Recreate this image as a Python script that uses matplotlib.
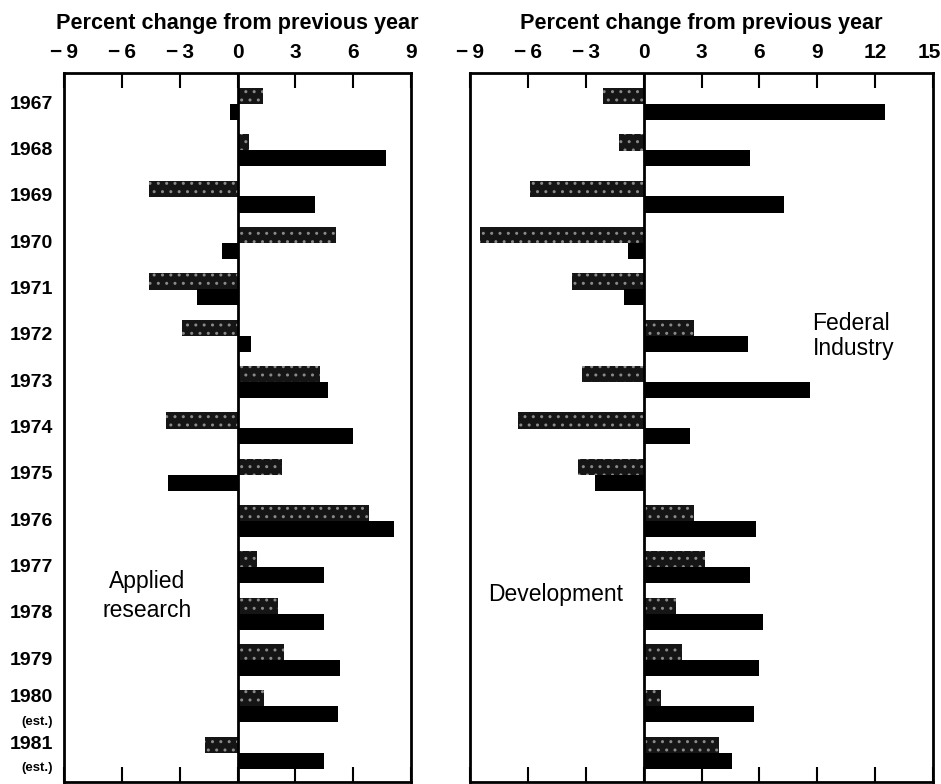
import numpy as np
import matplotlib
matplotlib.use('agg')
import matplotlib.pyplot as plt
import matplotlib.transforms as mtransforms

## Data (percent change from previous year)
years = ["1967", "1968", "1969", "1970", "1971", "1972", "1973", "1974",
         "1975", "1976", "1977", "1978", "1979", "1980", "1981"]
est_years = ["1980", "1981"]

applied_federal = [1.3, 0.6, -4.6, 5.1, -4.6, -2.9, 4.3, -3.7, 2.3, 6.8, 1.0, 2.1, 2.4, 1.4, -1.7]
applied_industry = [-0.4, 7.7, 4.0, -0.8, -2.1, 0.7, 4.7, 6.0, -3.6, 8.1, 4.5, 4.5, 5.3, 5.2, 4.5]

devel_federal = [-2.1, -1.3, -5.9, -8.5, -3.7, 2.6, -3.2, -6.5, -3.4, 2.6, 3.2, 1.7, 2.0, 0.9, 3.9]
devel_industry = [12.5, 5.5, 7.3, -0.8, -1.0, 5.4, 8.6, 2.4, -2.5, 5.8, 5.5, 6.2, 6.0, 5.7, 4.6]

left_ticks = [-9, -6, -3, 0, 3, 6, 9]
right_ticks = [-9, -6, -3, 0, 3, 6, 9, 12, 15]

plt.rcParams['font.family'] = ['Liberation Sans', 'DejaVu Sans']

fig = plt.figure(figsize=(9.41, 7.84), dpi=100)
ax1 = fig.add_axes([64/941, 2/784, 347/941, 709/784])
ax2 = fig.add_axes([470/941, 2/784, 463/941, 709/784])

y = np.arange(len(years))
h = 0.35
off = 0.17


def tick_label(v):
    return ('\u2212\u2009' + str(-v)) if v < 0 else str(v)


def draw_panel(ax, fed, ind, ticks, name, name_xy, spacing):
    ax.barh(y - off, fed, height=h, color='#151515', edgecolor='#8a8a8a',
            linewidth=0, hatch='..', zorder=2)
    ax.barh(y + off, ind, height=h, color='black', linewidth=0, zorder=2)
    ax.axvline(0, color='black', lw=2, zorder=3)
    ax.set_xlim(ticks[0], ticks[-1])
    ax.set_ylim(len(years) - 1 + 0.63, -0.67)
    ax.set_yticks([])
    ax.set_xticks(ticks)
    ax.set_xticklabels([tick_label(t) for t in ticks], fontsize=15, fontweight='bold')
    ax.tick_params(axis='x', direction='in', length=11, width=1.5,
                   top=True, bottom=True, labeltop=True, labelbottom=False, pad=8)
    for s in ax.spines.values():
        s.set_linewidth(2)
    ax.set_title('Percent change from previous year', fontsize=15.6,
                 fontweight='bold', pad=10)
    ax.text(name_xy[0], name_xy[1], name, transform=ax.transAxes, fontsize=16.5,
            ha='center', va='center', linespacing=spacing)


draw_panel(ax1, applied_federal, applied_industry, left_ticks,
           'Applied\nresearch', (0.24, 0.262), 1.35)
draw_panel(ax2, devel_federal, devel_industry, right_ticks,
           'Development', (0.185, 0.264), 1.0)

ax2.text(0.74, 0.629, 'Federal\nIndustry', transform=ax2.transAxes, fontsize=16.5,
         ha='left', va='center', linespacing=1.15)

# keep the "15" label inside the picture
last = ax2.get_xticklabels()[-1]
last.set_horizontalalignment('right')
last.set_transform(last.get_transform() +
                   mtransforms.ScaledTranslation(0.08, 0, fig.dpi_scale_trans))

# year labels on the left panel
tr = ax1.get_yaxis_transform()
for i, yr in enumerate(years):
    if yr in est_years:
        ax1.text(-0.032, i - 0.19, yr, transform=tr, ha='right', va='center',
                 fontsize=14, fontweight='bold')
        ax1.text(-0.032, i + 0.33, '(est.)', transform=tr, ha='right', va='center',
                 fontsize=9.5, fontweight='bold')
    else:
        ax1.text(-0.032, i, yr, transform=tr, ha='right', va='center',
                 fontsize=14, fontweight='bold')

plt.savefig('out.png', dpi=100)
